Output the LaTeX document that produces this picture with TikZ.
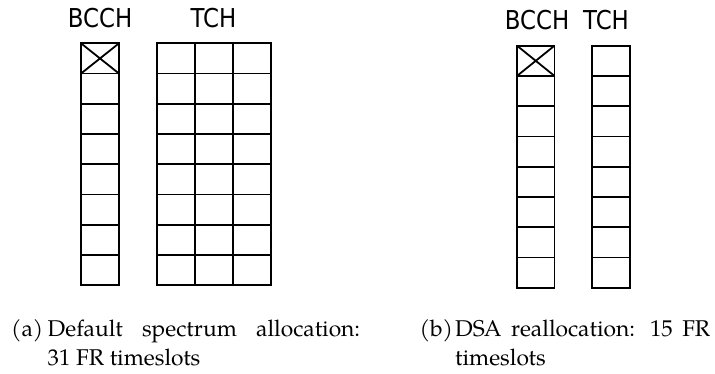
\documentclass[tikz,border=0pt]{standalone}
\usepackage{fontspec}
\newfontfamily\lblfont[FakeStretch=0.88]{DejaVu Sans}
\newfontfamily\capfont{texgyrepagella-regular.otf}
\begin{document}
\begin{tikzpicture}[x=1pt,y=-1pt,
  slot/.style={line width=1.8pt},
  chan/.style={font=\lblfont\fontsize{26}{30}\selectfont, anchor=base, inner sep=0pt},
  captext/.style={font=\capfont\fontsize{22.8}{28.3}\selectfont},
  subtag/.style={captext, anchor=base west, inner sep=0pt},
  subcap/.style={captext, anchor=base west, inner sep=0pt, align=justify}]
\useasboundingbox (0,0) rectangle (715,374);

% cell size
\def\cw{38}
\def\ch{30.25}

% ---- (a) default allocation ----
% BCCH column: one reserved slot (crossed) plus seven free slots
\foreach \r in {0,...,7}
  \draw[slot] (81,43.3+\r*\ch) rectangle ++(\cw,\ch);
\draw[slot] (81,43.3) -- ++(\cw,\ch) (81+\cw,43.3) -- ++(-\cw,\ch);
% TCH block: three carriers x eight slots
\foreach \c in {0,1,2}
  \foreach \r in {0,...,7}
    \draw[slot] (157+\c*\cw,43.3+\r*\ch) rectangle ++(\cw,\ch);

\node[chan] (bcchA) at (100,27.3) {BCCH};
\node[chan] (tchA) at (213.5,27.3) {TCH};

\node[subtag] (tagA) at (11,336.7) {(a)};
\node[subcap, text width=312.5pt] (capA) at (47.5,336.7)
  {Default spectrum allocation:\linebreak 31 FR timeslots};

% ---- (b) DSA reallocation ----
\foreach \r in {0,...,7}
  \draw[slot] (517,45.7+\r*\ch) rectangle ++(37.5,\ch);
\draw[slot] (517,45.7) -- ++(37.5,\ch) (554.5,45.7) -- ++(-37.5,\ch);
\foreach \r in {0,...,7}
  \draw[slot] (592.3,45.7+\r*\ch) rectangle ++(37.7,\ch);

\node[chan] (bcchB) at (537,30) {BCCH};
\node[chan] (tchB) at (606,30) {TCH};

\node[subtag] (tagB) at (419.5,336.7) {(b)};
\node[subcap, text width=255pt] (capB) at (455,336.7)
  {DSA reallocation: 15 FR\linebreak timeslots};
\end{tikzpicture}
\end{document}
